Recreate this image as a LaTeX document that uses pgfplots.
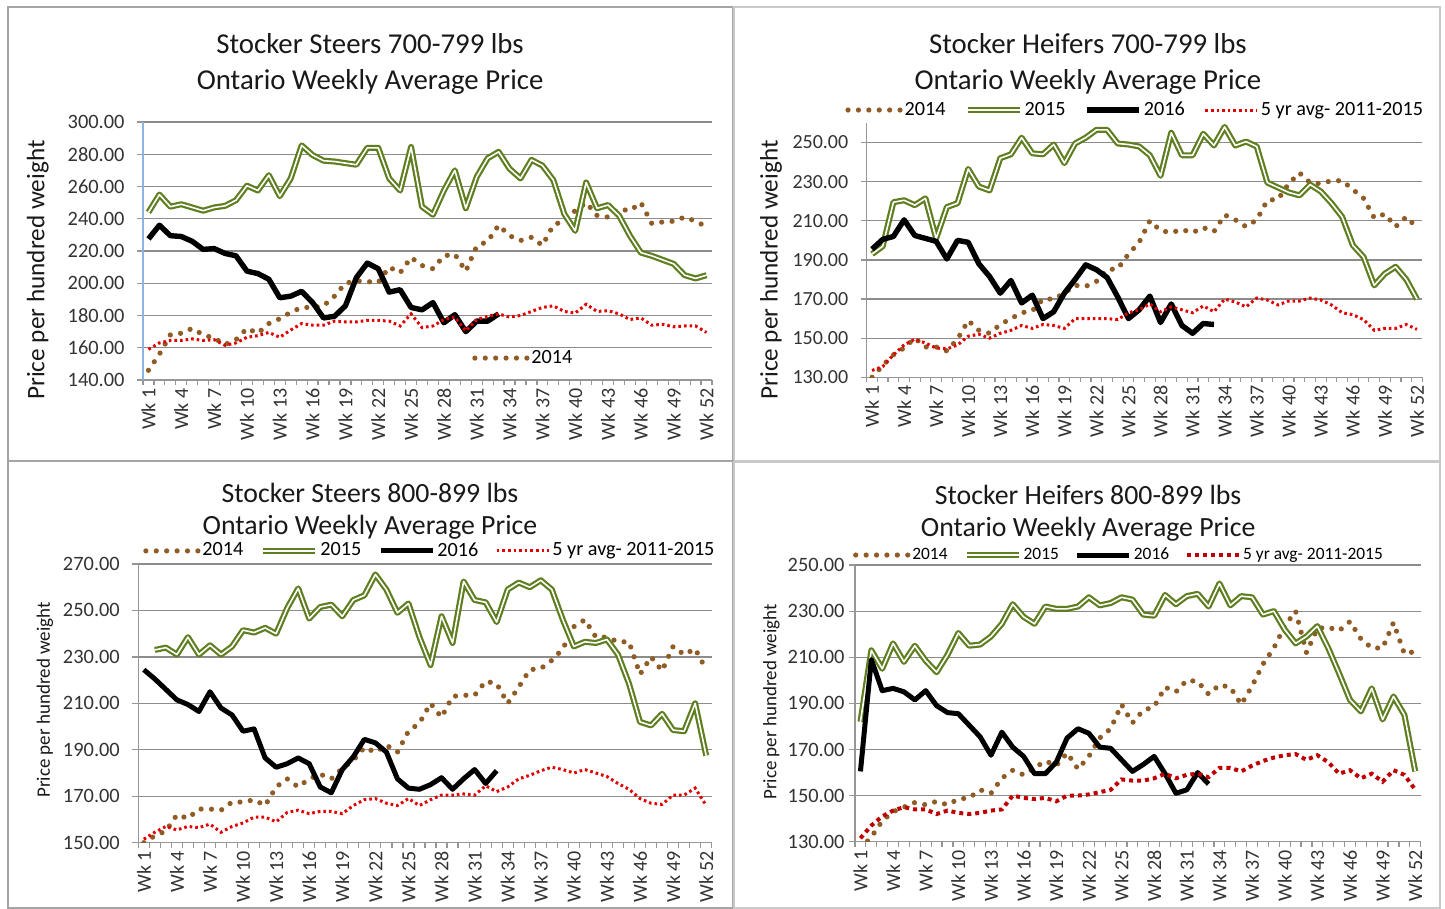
\documentclass[border=0pt]{standalone}
\usepackage{pgfplots}
\pgfplotsset{compat=1.18}
\usepackage{pgfplotstable}
\usepackage{fontspec}
\setmainfont{Carlito}
\definecolor{cbrown}{RGB}{143,92,38}
\definecolor{cgreen}{RGB}{94,126,31}
\definecolor{cred}{RGB}{226,0,0}
\definecolor{cdred}{RGB}{192,0,0}
\definecolor{gridgray}{RGB}{140,140,140}
\definecolor{axgray}{RGB}{150,150,150}
\definecolor{axblue}{RGB}{140,180,226}
\definecolor{framegray}{RGB}{165,165,165}

\pgfplotstableread{
wk a b c d
1 146 244 227.5 159
2 156 255 236 163
3 168 247.5 229.5 164.5
4 169 249 229 164.5
5 172 247 226 165.5
6 168 245 221 164.5
7 166 247 221.5 165
8 162 248 218.5 161.5
9 165 251.5 217 163
10 172 260.5 207.5 166.5
11 169 257.5 206 167.5
12 175 267 202.5 169.5
13 178 254 191 166.5
14 182 265 192 171
15 185 285.5 195 175
16 185 279.5 188 174
17 186 276 178.5 174
18 192 275.5 179.5 176.5
19 200 274.5 186 176
20 201.5 273.5 203.5 176
21 201 284 212.5 177
22 200.5 284 209 177
23 210 265 194.5 176.5
24 206.5 257.5 196 173.5
25 216 284.5 185 181
26 211 247.5 183.5 172.5
27 209 242.5 188 173.5
28 217 257.5 175.5 177.5
29 218 270 180.5 179
30 207.5 246.5 170 170.5
31 223 266 176.5 177.5
32 226 277.5 176.5 179.5
33 236 281.5 181 181
34 229.5 271 nan 179
35 226.5 265 nan 180
36 228.5 276.5 nan 182.5
37 223.5 273 nan 185
38 236 264 nan 186
39 239 243 nan 182.5
40 245 232.5 nan 181.5
41 250 262.5 nan 187
42 242 246.5 nan 182.5
43 241 248.5 nan 183
44 246 242 nan 181
45 245 229.5 nan 177.5
46 250 219 nan 178.5
47 237 217 nan 174
48 238 214.5 nan 174.5
49 238.5 212 nan 173
50 241 205 nan 173.5
51 238.5 203 nan 173.5
52 235 205 nan 169.5
}\tA

\pgfplotstableread{
wk a b c d
1 130 193 195.5 133.5
2 136 197 200.5 135.5
3 141.5 219.5 202 141.5
4 145 220.5 210.5 146.5
5 150 218 202.5 149.5
6 145.5 221.5 201 147.5
7 145.5 201 199.5 145
8 143.5 217 190.5 144.5
9 149.5 219 200 146.5
10 159 236.5 199 151
11 154 227.5 188 152
12 152.5 225.5 181.5 150
13 157 242 173 152.5
14 160 244 179.5 154
15 163 252.5 168 156.5
16 164 244.5 172 155
17 170 244 160 157
18 170 249 163.5 156.5
19 173 239.5 173 155
20 177 249.5 180 160
21 176.5 252.5 187.5 160
22 179 256.5 185 160
23 185 256.5 181 160
24 185.5 249.5 171 159.5
25 193 249 160 163
26 199 248 164.5 164.5
27 210 243.5 171.5 167.5
28 205 233 158 163.5
29 204 255 167.5 166
30 205.5 243.5 156.5 164.5
31 204 243.5 152.5 163
32 206.5 254.5 157.5 166.5
33 204.5 248.5 157 163.5
34 213 258 nan 170
35 210.5 248.5 nan 168.5
36 207 250.5 nan 166
37 210.5 248 nan 170.5
38 220.5 229.5 nan 169.5
39 221 227 nan 167
40 229 224.5 nan 169
41 234.5 223 nan 169
42 229.5 228.5 nan 170.5
43 229 225 nan 169.5
44 230.5 219 nan 167
45 230.5 212 nan 163
46 226 197.5 nan 162
47 221.5 191.5 nan 159.5
48 211.5 177 nan 154
49 213.5 183 nan 155
50 207 186.5 nan 155
51 212 180 nan 157
52 206.5 170 nan 154.5
}\tB

\pgfplotstableread{
wk a b c d
1 150 nan 224.5 151.5
2 153 233 220.5 154.5
3 155 234 216 157
4 162 231 211.5 155.5
5 160.5 238.5 209.5 157
6 164.5 231 206.5 156.5
7 164.5 235 215 158
8 164 231 208 154.5
9 167.5 234.5 205 157
10 167.5 241.5 198 158.5
11 168.5 240.5 199 161
12 166 242.5 186.5 161
13 174 240 182.5 159
14 177.5 251 184 163
15 174 259.5 186.5 164
16 177.5 246.5 184 162.5
17 179.5 251.5 174 163.5
18 177.5 252.5 171.5 163.5
19 182 247.5 181.5 162.5
20 185.5 254.5 187 166
21 191 256.5 194.5 168.5
22 189 265.5 193 169
23 192 259 189 167
24 189 249 177.5 166
25 198 253 173.5 169
26 201.5 238.5 173 166
27 210 226.5 175 168.5
28 204 247.5 178 170.5
29 213 236 173 170.5
30 213.5 262.5 177.5 171
31 213.5 254.5 181.5 170.5
32 219.5 253.5 175.5 174.5
33 218.5 245 181 172
34 210 259 nan 174
35 217 262 nan 177.5
36 224.5 260 nan 179
37 225 263 nan 181
38 228.5 259 nan 182.5
39 233.5 246 nan 181.5
40 243 234.5 nan 180
41 246 236.5 nan 181.5
42 238.5 236 nan 180
43 238.5 237.5 nan 178.5
44 236.5 231 nan 175.5
45 236.5 218.5 nan 173
46 222.5 202 nan 169
47 230 200.5 nan 167
48 224 205.5 nan 166.5
49 234.5 198.5 nan 170.5
50 231 198 nan 170.5
51 233.5 210 nan 173.5
52 224.5 187.5 nan 166
}\tC

\pgfplotstableread{
wk a b c d
1 127 182 160.5 131.5
2 132 213 209 137
3 139 205 195.5 141
4 143 216 196.5 143.5
5 145 208 195 145
6 147 215 191.5 144
7 146 208.5 195.5 144
8 147.5 203.5 189 142
9 146 211 186 143.5
10 148.5 220.5 185.5 142.5
11 149 215 180.5 142
12 152.5 215.5 175.5 142.5
13 151 219 167.5 143.5
14 157.5 224.5 177.5 144
15 161 233 171 150
16 159 227.5 167 149
17 162 224.5 159.5 148.5
18 165 232 159.5 149
19 163 231 164.5 147.5
20 168.5 231 175 150
21 161.5 232 179 150
22 167 236 177 150.5
23 175 232.5 171 151.5
24 179 233.5 170.5 152.5
25 189.5 236 165.5 157
26 181.5 235 160.5 156.5
27 187 228.5 163.5 156.5
28 188.5 228 167 157.5
29 197 237 159.5 159.5
30 195 233 151 157.5
31 200 236.5 152.5 159
32 199.5 237.5 160 159.5
33 194 232 155 158
34 198 242 nan 162
35 197 232.5 nan 162
36 189.5 236.5 nan 160.5
37 197.5 236 nan 163
38 207 228.5 nan 165
39 214 230 nan 166.5
40 223.5 222 nan 167.5
41 230 216 nan 168
42 212 219 nan 165.5
43 222.5 223.5 nan 167.5
44 223 214 nan 164.5
45 221.5 203 nan 159.5
46 225.5 191.5 nan 161
47 218 186.5 nan 157.5
48 214 196.5 nan 159.5
49 214 183 nan 156
50 225 193 nan 161
51 211.5 185 nan 159
52 212.5 160.5 nan 152.5
}\tD

\pgfplotsset{
 legend image code/.code={\draw[#1] (0pt,0pt) -- (26pt,0pt);},
 panel/.style={
  scale only axis, xmin=0.5, xmax=52.5, clip=true,
  axis x line*=bottom, axis y line*=left,
  x axis line style={-, draw=axgray, line width=0.6pt},
  y axis line style={-, draw=axgray, line width=0.6pt},
  ymajorgrids, major grid style={draw=gridgray, line width=0.6pt},
  xtick={1,4,...,52},
  xticklabels={Wk 1,Wk 4,Wk 7,Wk 10,Wk 13,Wk 16,Wk 19,Wk 22,Wk 25,Wk 28,Wk 31,Wk 34,Wk 37,Wk 40,Wk 43,Wk 46,Wk 49,Wk 52},
  minor xtick={0.5,1.5,...,52.5},
  tick align=outside,
  major tick length=3pt, minor tick length=2.5pt,
  major x tick style={draw=none},
  minor x tick style={draw=axgray, line width=0.6pt},
  y tick style={draw=axgray, line width=0.6pt},
  x tick label style={rotate=90, anchor=east, inner sep=1pt, font=\fontsize{10}{12}\selectfont, text=black!80},
  y tick label style={font=\fontsize{10.2}{12}\selectfont, text=black!80, xshift=-2.7pt},
  /pgf/number format/assume math mode=true,
  yticklabel={\pgfmathprintnumber[fixed,fixed zerofill,precision=2]{\tick}},
  legend cell align=left,
  legend style={draw=none, fill=none, inner sep=0pt, nodes={inner sep=1pt},
    font=\fontsize{10.1}{12}\selectfont, /tikz/every even column/.append style={column sep=8.5pt}},
  title style={anchor=center, yshift=-7pt, align=center, font=\fontsize{14.4}{18}\selectfont, text=black!90},
  ylabel style={anchor=center, font=\fontsize{12.6}{14}\selectfont, text=black!90},
 },
 s14/.style={draw=cbrown, line width=2.6pt, dash pattern=on 0pt off 5.2pt, line cap=round},
 s15/.style={draw=cgreen, line width=1.1pt, double=white, double distance=0.8pt, line join=round},
 s16/.style={draw=black, line width=2.7pt, line join=round},
 s5y/.style={draw=cred, line width=1.5pt, dash pattern=on 1.3pt off 1.5pt},
 s5yb/.style={draw=cdred, line width=2pt, dash pattern=on 2pt off 2pt},
}

\begin{document}
\begin{tikzpicture}
\useasboundingbox (0,0) rectangle (722.5pt,-454.5pt);
\fill[white] (0,0) rectangle (722.5pt,-454.5pt);
\draw[framegray, line width=0.6pt] (4pt,-3.5pt) rectangle (366.5pt,-230.5pt);
\draw[framegray!60, line width=0.6pt] (367pt,-3.5pt) rectangle (720pt,-230.5pt);
\draw[framegray, line width=0.6pt] (4pt,-230.5pt) rectangle (366.5pt,-454pt);
\draw[framegray!60, line width=0.6pt] (367pt,-231pt) rectangle (720pt,-454pt);

% Panel 1
\begin{axis}[panel, at={(71.5pt,-190pt)}, anchor=south west, width=284.5pt, height=129pt,
  ymin=140, ymax=300, ytick={140,160,...,300},
  y axis line style={-, draw=axblue, line width=0.6pt},
  title={Stocker Steers 700-799 lbs\\Ontario Weekly Average Price},
  title style={at={(axis description cs:0.399,1.233)}},
  ylabel={Price per hundred weight},
  ylabel style={at={(axis description cs:-0.185,0.426)}},
  legend style={at={(axis description cs:0.578,0.085)}, anchor=west}]
\addplot[s14] table[x=wk,y=a] {\tA};
\addplot[s15] table[x=wk,y=b] {\tA};
\addplot[s16] table[x=wk,y=c] {\tA};
\addplot[s5y] table[x=wk,y=d] {\tA};
\legend{2014}
\end{axis}

% Panel 2
\begin{axis}[panel, at={(433.35pt,-188.65pt)}, anchor=south west, width=277.8pt, height=127.15pt,
  ymin=130, ymax=260, ytick={130,150,...,250},
  y tick label style={font=\fontsize{10}{12}\selectfont},
  title={Stocker Heifers 700-799 lbs\\Ontario Weekly Average Price},
  title style={at={(axis description cs:0.398,1.240)}},
  ylabel={Price per hundred weight},
  ylabel style={at={(axis description cs:-0.172,0.422)}},
  legend columns=4,
  legend style={at={(axis description cs:-0.039,1.051)}, anchor=west}]
\addplot[s14] table[x=wk,y=a] {\tB};
\addplot[s15] table[x=wk,y=b] {\tB};
\addplot[s16] table[x=wk,y=c] {\tB};
\addplot[s5y] table[x=wk,y=d] {\tB};
\legend{2014,2015,2016,5 yr avg- 2011-2015}
\end{axis}

% Panel 3
\begin{axis}[panel, at={(69.15pt,-421.35pt)}, anchor=south west, width=286.7pt, height=139.35pt,
  ymin=150, ymax=270, ytick={150,170,...,270},
  title={Stocker Steers 800-899 lbs\\Ontario Weekly Average Price},
  title style={at={(axis description cs:0.404,1.197)}, font=\fontsize{13.9}{16}\selectfont},
  ylabel={Price per hundred weight},
  ylabel style={at={(axis description cs:-0.163,0.512)}, font=\fontsize{9.5}{11}\selectfont},
  legend columns=4,
  legend style={at={(axis description cs:0.008,1.047)}, anchor=west,
    /tikz/every even column/.append style={column sep=7.5pt}}]
\addplot[s14] table[x=wk,y=a] {\tC};
\addplot[s15] table[x=wk,y=b] {\tC};
\addplot[s16, line width=2.5pt] table[x=wk,y=c] {\tC};
\addplot[s5y] table[x=wk,y=d] {\tC};
\legend{2014,2015,2016,5 yr avg- 2011-2015}
\end{axis}

% Panel 4
\begin{axis}[panel, at={(427.5pt,-420.85pt)}, anchor=south west, width=282.85pt, height=138.35pt,
  ymin=130, ymax=250, ytick={130,150,...,250},
  y tick label style={xshift=4pt},
  title={Stocker Heifers 800-899 lbs\\Ontario Weekly Average Price},
  title style={at={(axis description cs:0.412,1.195)}, font=\fontsize{13.9}{16}\selectfont},
  ylabel={Price per hundred weight},
  ylabel style={at={(axis description cs:-0.148,0.505)}, font=\fontsize{9.5}{11}\selectfont},
  legend columns=4,
  legend style={at={(axis description cs:-0.004,1.036)}, anchor=west, font=\fontsize{8.7}{10}\selectfont,
    /tikz/every even column/.append style={column sep=7pt}}]
\addplot[s14] table[x=wk,y=a] {\tD};
\addplot[s15] table[x=wk,y=b] {\tD};
\addplot[s16, line width=2.5pt] table[x=wk,y=c] {\tD};
\addplot[s5yb] table[x=wk,y=d] {\tD};
\legend{2014,2015,2016,5 yr avg- 2011-2015}
\end{axis}
\end{tikzpicture}
\end{document}
